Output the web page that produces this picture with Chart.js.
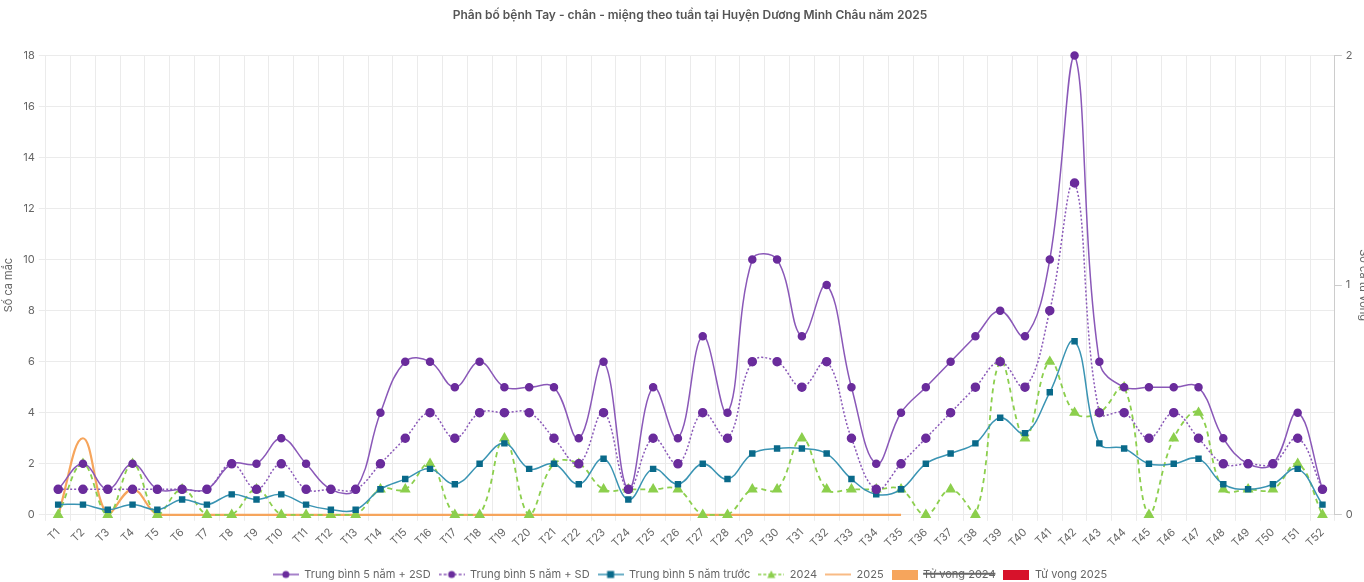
<!DOCTYPE html>
<html>
<head>
<meta charset="utf-8">
<script src="https://cdn.jsdelivr.net/npm/chart.js@4.4.0/dist/chart.umd.min.js"></script>
<style>
  html, body { margin: 0; padding: 0; background: #fff; overflow: hidden; }
  #wrap { position: relative; width: 1378px; height: 582px; }
</style>
</head>
<body>
<div id="wrap"><canvas id="chart"></canvas></div>
<script>
// Tuần
const weeks = ['T1','T2','T3','T4','T5','T6','T7','T8','T9','T10','T11','T12','T13','T14','T15','T16','T17','T18','T19','T20',
  'T21','T22','T23','T24','T25','T26','T27','T28','T29','T30','T31','T32','T33','T34','T35','T36','T37','T38','T39','T40',
  'T41','T42','T43','T44','T45','T46','T47','T48','T49','T50','T51','T52'];

// Trung bình 5 năm + 2SD
const mean2sd = [1,2,1,2,1,1,1,2,2,3,2,1,1,4,6,6,5,6,5,5,
  5,3,6,1,5,3,7,4,10,10,7,9,5,2,4,5,6,7,8,7,
  10,18,6,5,5,5,5,3,2,2,4,1];

// Trung bình 5 năm + SD
const mean1sd = [1,1,1,1,1,1,1,2,1,2,1,1,1,2,3,4,3,4,4,4,
  3,2,4,1,3,2,4,3,6,6,5,6,3,1,2,3,4,5,6,5,
  8,13,4,4,3,4,3,2,2,2,3,1];

// Trung bình 5 năm trước
const mean5y = [0.4,0.4,0.2,0.4,0.2,0.6,0.4,0.8,0.6,0.8,0.4,0.2,0.2,1.0,1.4,1.8,1.2,2.0,2.8,1.8,
  2.0,1.2,2.2,0.6,1.8,1.2,2.0,1.4,2.4,2.6,2.6,2.4,1.4,0.8,1.0,2.0,2.4,2.8,3.8,3.2,
  4.8,6.8,2.8,2.6,2.0,2.0,2.2,1.2,1.0,1.2,1.8,0.4];

// Năm 2024
const cases2024 = [0,2,0,2,0,1,0,0,1,0,0,0,0,1,1,2,0,0,3,0,
  2,2,1,1,1,1,0,0,1,1,3,1,1,1,1,0,1,0,6,3,
  6,4,4,5,0,3,4,1,1,1,2,0];

// Năm 2025 (đến T35)
const cases2025 = [0,3,0,1,0,0,0,0,0,0,0,0,0,0,0,0,0,0,0,0,
  0,0,0,0,0,0,0,0,0,0,0,0,0,0,0];

// Tử vong
const deaths2024 = [0,0,0,0,0,0,0,0,0,0,0,0,0,0,0,0,0,0,0,0,
  0,0,0,0,0,0,0,0,0,0,0,0,0,0,0,0,0,0,0,0,
  0,0,0,0,0,0,0,0,0,0,0,0];
const deaths2025 = [0,0,0,0,0,0,0,0,0,0,0,0,0,0,0,0,0,0,0,0,
  0,0,0,0,0,0,0,0,0,0,0,0,0,0,0];

const PURPLE_LINE = '#8a58b8';
const PURPLE_DOT = '#6a2c9c';
const TEAL_LINE = '#3a94b3';
const TEAL_DOT = '#0a6a8a';
const GREEN = '#8ccf4d';
const ORANGE = '#f6a55c';
const RED = '#d7122b';

// legend icons: line + marker, like the original
function lineIcon(color, markColor, dash, mark) {
  const c = document.createElement('canvas');
  c.width = 26; c.height = 12;
  const g = c.getContext('2d');
  g.strokeStyle = color;
  g.lineWidth = 1.5;
  g.setLineDash(dash);
  g.beginPath(); g.moveTo(0, 6); g.lineTo(26, 6); g.stroke();
  g.setLineDash([]);
  g.fillStyle = markColor;
  if (mark === 'circle') {
    g.beginPath(); g.arc(13, 6, 3.5, 0, Math.PI * 2); g.fill();
  } else if (mark === 'rect') {
    g.fillRect(9.5, 2.5, 7, 7);
  } else if (mark === 'triangle') {
    g.beginPath(); g.moveTo(13, 2); g.lineTo(17, 9.5); g.lineTo(9, 9.5); g.closePath(); g.fill();
  }
  return c;
}
function boxIcon(color) {
  const c = document.createElement('canvas');
  c.width = 26; c.height = 10;
  const g = c.getContext('2d');
  g.fillStyle = color;
  g.fillRect(0, 0, 26, 10);
  return c;
}

const icons = [
  lineIcon(PURPLE_LINE, PURPLE_DOT, [], 'circle'),
  lineIcon(PURPLE_LINE, PURPLE_DOT, [3, 2], 'circle'),
  lineIcon(TEAL_LINE, TEAL_DOT, [], 'rect'),
  lineIcon(GREEN, GREEN, [3, 2], 'triangle'),
  lineIcon(ORANGE, ORANGE, [], 'none'),
  boxIcon(ORANGE),
  boxIcon(RED),
];

Chart.defaults.font.family = 'Inter, "Noto Sans", sans-serif';
Chart.defaults.font.size = 11;
Chart.defaults.color = '#666';

const ctx = document.getElementById('chart');
new Chart(ctx, {
  data: {
    labels: weeks,
    datasets: [
      {
        type: 'line',
        label: 'Trung bình 5 năm + 2SD',
        data: mean2sd,
        yAxisID: 'y',
        borderColor: PURPLE_LINE,
        borderWidth: 1.5,
        pointBackgroundColor: PURPLE_DOT,
        pointBorderColor: PURPLE_DOT,
        pointRadius: 3.5,
        pointStyle: 'circle',
        tension: 0.4,
        clip: false,
        fill: false
      },
      {
        type: 'line',
        label: 'Trung bình 5 năm + SD',
        data: mean1sd,
        yAxisID: 'y',
        borderColor: PURPLE_LINE,
        borderWidth: 1.5,
        borderDash: [2, 2],
        pointBackgroundColor: PURPLE_DOT,
        pointBorderColor: PURPLE_DOT,
        pointRadius: 4,
        pointStyle: 'circle',
        tension: 0.4,
        clip: false,
        fill: false
      },
      {
        type: 'line',
        label: 'Trung bình 5 năm trước',
        data: mean5y,
        yAxisID: 'y',
        borderColor: TEAL_LINE,
        borderWidth: 1.5,
        pointBackgroundColor: TEAL_DOT,
        pointBorderColor: TEAL_DOT,
        pointRadius: 3.5,
        pointStyle: 'rect',
        tension: 0.4,
        clip: false,
        fill: false
      },
      {
        type: 'line',
        label: '2024',
        data: cases2024,
        yAxisID: 'y',
        borderColor: GREEN,
        borderWidth: 1.8,
        borderDash: [5, 4],
        pointBackgroundColor: GREEN,
        pointBorderColor: GREEN,
        pointRadius: 4.5,
        pointStyle: 'triangle',
        tension: 0.4,
        clip: false,
        fill: false
      },
      {
        type: 'line',
        label: '2025',
        data: cases2025,
        yAxisID: 'y',
        borderColor: ORANGE,
        borderWidth: 2.2,
        pointRadius: 0,
        tension: 0.4,
        clip: false,
        fill: false
      },
      {
        type: 'bar',
        label: 'Tử vong 2024',
        data: deaths2024,
        yAxisID: 'y1',
        backgroundColor: ORANGE,
        hidden: true
      },
      {
        type: 'bar',
        label: 'Tử vong 2025',
        data: deaths2025,
        yAxisID: 'y1',
        backgroundColor: RED
      }
    ]
  },
  options: {
    responsive: true,
    maintainAspectRatio: false,
    animation: false,
    layout: { padding: { left: 2, right: 0, top: 0, bottom: -8 } },
    plugins: {
      title: {
        display: true,
        text: 'Phân bố bệnh Tay - chân - miệng theo tuần tại Huyện Dương Minh Châu năm 2025',
        color: '#555',
        font: { size: 12, weight: '600' },
        padding: { top: 8, bottom: 33 }
      },
      legend: {
        position: 'bottom',
        labels: {
          usePointStyle: true,
          pointStyleWidth: 26,
          padding: 8,
          color: '#666',
          generateLabels(chart) {
            const items = Chart.defaults.plugins.legend.labels.generateLabels(chart);
            items.forEach(it => { it.pointStyle = icons[it.datasetIndex]; });
            return items;
          }
        }
      },
      tooltip: { enabled: false }
    },
    scales: {
      x: {
        offset: true,
        grid: { offset: true, color: '#ebebeb', tickLength: 6 },
        border: { color: '#ebebeb' },
        ticks: { minRotation: 45, maxRotation: 45, autoSkip: false, color: '#666', padding: 5 },
        afterFit(scale) { scale.height += 6; }
      },
      y: {
        position: 'left',
        min: 0,
        max: 18,
        ticks: { stepSize: 2, color: '#666', padding: 4 },
        grid: { color: '#ebebeb', tickLength: 7 },
        border: { color: '#ebebeb' },
        title: { display: true, text: 'Số ca mắc', color: '#666', padding: { top: 0, bottom: 4 } }
      },
      y1: {
        position: 'right',
        min: 0,
        max: 2,
        ticks: { stepSize: 1, color: '#666', padding: 4 },
        grid: { drawOnChartArea: false, color: '#ccc', tickLength: 7 },
        border: { color: '#ccc' },
        title: { display: true, text: 'Số ca tử vong', color: '#666', padding: { top: 8, bottom: 0 } }
      }
    }
  }
});
</script>
</body>
</html>
